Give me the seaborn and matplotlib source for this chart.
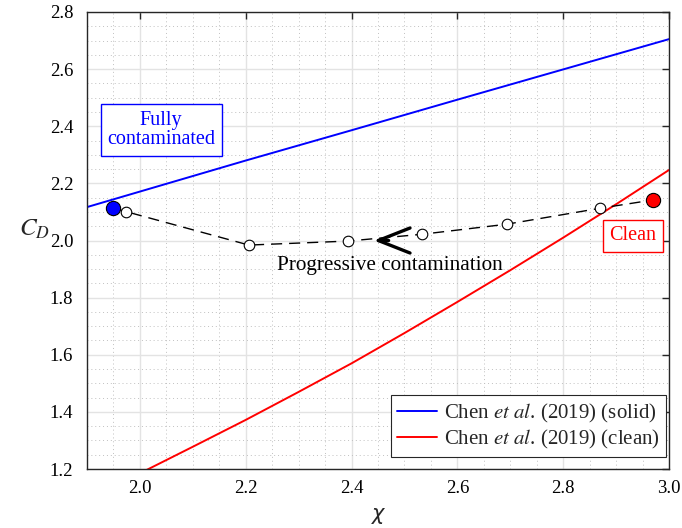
import numpy as np
import pandas as pd
import matplotlib
matplotlib.use("Agg")
import matplotlib.pyplot as plt
from matplotlib.ticker import MultipleLocator
from matplotlib.lines import Line2D
import seaborn as sns

# Chen et al. (2019) curves
chi_solid = [1.9, 2.2, 2.4, 2.6, 2.8, 3.0]
cd_solid = [2.117, 2.280, 2.386, 2.493, 2.599, 2.705]
chi_clean = [2.0, 2.1, 2.2, 2.3, 2.4, 2.5, 2.6, 2.7, 2.8, 2.9, 3.0]
cd_clean = [1.185, 1.278, 1.372, 1.470, 1.570, 1.676, 1.785, 1.896,
            2.010, 2.127, 2.247]

# progressive contamination path (fully contaminated -> clean)
chi_path = [1.950, 1.974, 2.206, 2.393, 2.534, 2.693, 2.870, 2.970]
cd_path = [2.113, 2.101, 1.984, 1.998, 2.022, 2.057, 2.113, 2.142]

sns.set_theme(style="white")
plt.rcParams["font.family"] = ["Liberation Serif", "DejaVu Serif"]
plt.rcParams["mathtext.fontset"] = "stix"

fig = plt.figure(figsize=(6.82, 5.28), dpi=100)
ax = fig.add_axes([0.1276, 0.1117, 0.8534, 0.8656])

df_solid = pd.DataFrame({"chi": chi_solid, "cd": cd_solid})
df_clean = pd.DataFrame({"chi": chi_clean, "cd": cd_clean})
sns.lineplot(data=df_solid, x="chi", y="cd", ax=ax, color="#0000ff", lw=1.4)
sns.lineplot(data=df_clean, x="chi", y="cd", ax=ax, color="#ff0000", lw=1.4)

ax.plot(chi_path, cd_path, color="black", lw=1.0, linestyle=(0, (8, 5)), zorder=3)
ax.scatter(chi_path[1:-1], cd_path[1:-1], s=58, facecolor="white",
           edgecolor="black", linewidth=0.8, zorder=4)
ax.scatter(chi_path[0], cd_path[0], s=105, facecolor="#0000ff",
           edgecolor="black", linewidth=0.8, zorder=5)
ax.scatter(chi_path[-1], cd_path[-1], s=105, facecolor="#ff0000",
           edgecolor="black", linewidth=0.8, zorder=5)

ax.annotate("", xy=(2.442, 2.0), xytext=(2.47, 2.0),
            arrowprops=dict(arrowstyle="->,head_length=1.9,head_width=0.75",
                            lw=2.4, color="black", shrinkA=0, shrinkB=0),
            zorder=6)

ax.text(2.472, 1.914, "Progressive contamination", ha="center", va="center",
        fontsize=15.3, color="black")
ax.text(2.040, 2.387, "Fully\ncontaminated", ha="center", va="center",
        fontsize=14.5, color="#0000ff", linespacing=1.05,
        bbox=dict(boxstyle="square,pad=0.32", fc="white", ec="#0000ff", lw=1.0))
ax.text(2.932, 2.016, "Clean", ha="center", va="center",
        fontsize=14.5, color="#ff0000",
        bbox=dict(boxstyle="square,pad=0.32", fc="white", ec="#ff0000", lw=1.0))

ax.set_xlim(1.9, 3.0)
ax.set_ylim(1.2, 2.8)
ax.xaxis.set_minor_locator(MultipleLocator(0.05))
ax.yaxis.set_minor_locator(MultipleLocator(0.05))
ax.set_xticks(np.arange(2.0, 3.01, 0.2))
ax.set_xticklabels([f"{v:.1f}" for v in np.arange(2.0, 3.01, 0.2)])
ax.set_yticks(np.arange(1.2, 2.81, 0.2))
ax.set_yticklabels([f"{v:.1f}" for v in np.arange(1.2, 2.81, 0.2)])

ax.grid(which="major", color="#e3e3e3", lw=1.0, linestyle="-")
ax.grid(which="minor", color="#c0c0c0", lw=0.7, linestyle=(0, (1, 3)))
ax.set_axisbelow(True)
ax.tick_params(which="major", direction="in", length=5, width=1.0,
               top=True, right=True, labelsize=13.5, colors="#262626",
               labelcolor="black")
ax.tick_params(axis="x", pad=8)
ax.tick_params(axis="y", pad=10)
ax.tick_params(which="minor", length=0)
for sp in ax.spines.values():
    sp.set_color("#262626")
    sp.set_linewidth(1.0)

ax.set_xlabel("χ", fontsize=15, family="DejaVu Sans", style="italic", labelpad=5)
ax.set_ylabel("$C_D$", fontsize=18, rotation=0)
ax.yaxis.set_label_coords(-0.09, 0.5)

handles = [Line2D([], [], color="#0000ff", lw=1.4),
           Line2D([], [], color="#ff0000", lw=1.4)]
labels = [r"Chen $\it{et\ al}$. (2019) (solid)",
          r"Chen $\it{et\ al}$. (2019) (clean)"]
leg = ax.legend(handles, labels, loc="lower right",
                bbox_to_anchor=(0.995, 0.026), fontsize=15,
                frameon=True, fancybox=False, framealpha=1,
                edgecolor="#262626", borderpad=0.3, labelspacing=0.15,
                handlelength=1.9, handletextpad=0.35, borderaxespad=0)
leg.get_frame().set_linewidth(0.8)

fig.savefig("out.png", dpi=100)
